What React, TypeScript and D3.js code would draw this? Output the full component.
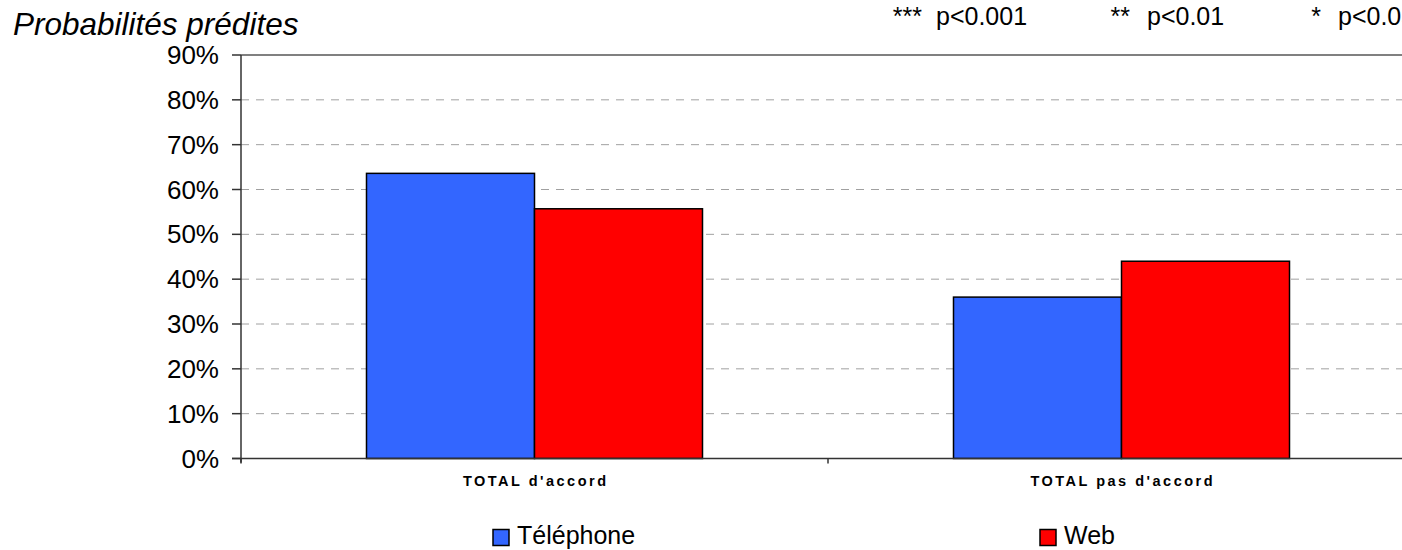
import React from "react";
import * as d3 from "d3";

const categories = ["TOTAL d'accord", "TOTAL pas d'accord"];
const seriesNames = ["Téléphone", "Web"];
const telephone = [63.6, 36.0];
const web = [55.7, 44.0];
const yTicks = [0, 10, 20, 30, 40, 50, 60, 70, 80, 90];
const title = "Probabilités prédites";
const sigStars = ["***", "**", "*"];
const sigLabels = ["p<0.001", "p<0.01", "p<0.05"];

const colors = ["#3366FF", "#FF0000"];
const W = 1402;
const H = 550;
const FONT = "Arial, 'Liberation Sans', Helvetica, sans-serif";

export default function App() {
  const left = 241;
  const right = 1415;
  const y = d3.scaleLinear().domain([0, 90]).range([458.5, 55]);
  const x0 = d3.scaleBand<string>().domain(categories).range([left, right]).paddingInner(0).paddingOuter(0);
  const x1 = d3.scaleBand<string>().domain(seriesNames).range([0, x0.bandwidth()]).paddingInner(0).paddingOuter(0.747);
  const values = [telephone, web];

  const sigStarRight = [922, 1130, 1321];
  const sigLabelLeft = [936, 1147, 1338];
  const legendX = [493, 1040];

  return (
    <svg width={W} height={H} style={{ position: "absolute", left: 0, top: 0, background: "#fff" }} fontFamily={FONT}>
      <rect x={0} y={0} width={W} height={H} fill="#fff" />
      {/* title */}
      <text x={13} y={35} fontSize={31.5} fontStyle="italic" fill="#000">{title}</text>
      {/* significance */}
      {sigStars.map((s, i) => (
        <g key={s}>
          <text x={sigStarRight[i]} y={25} fontSize={25} textAnchor="end" fill="#000">{s}</text>
          <text x={sigLabelLeft[i]} y={25} fontSize={25} fill="#000">{sigLabels[i]}</text>
        </g>
      ))}
      {/* gridlines */}
      {yTicks.filter((t) => t > 0 && t < 90).map((t) => (
        <line key={t} x1={left} x2={right} y1={y(t)} y2={y(t)} stroke="#a0a0a0" strokeWidth={1} strokeDasharray="8,7" />
      ))}
      <line x1={left} x2={right} y1={y(90)} y2={y(90)} stroke="#808080" strokeWidth={2} />
      {/* bars */}
      {categories.map((c, ci) => (
        <g key={c} transform={`translate(${x0(c)},0)`}>
          {seriesNames.map((s, si) => (
            <rect
              key={s}
              x={x1(s)}
              y={y(values[si][ci])}
              width={x1.bandwidth()}
              height={y(0) - y(values[si][ci])}
              fill={colors[si]}
              stroke="#000"
              strokeWidth={1.5}
            />
          ))}
        </g>
      ))}
      {/* y axis */}
      <line x1={left} x2={left} y1={y(90)} y2={y(0) + 4} stroke="#333" strokeWidth={1.5} />
      {yTicks.map((t) => (
        <g key={t}>
          <line x1={left - 9} x2={left} y1={y(t)} y2={y(t)} stroke="#333" strokeWidth={1.5} />
          <text x={219} y={y(t)} dy="0.35em" fontSize={26} textAnchor="end" fill="#000">{`${t}%`}</text>
        </g>
      ))}
      {/* x axis */}
      <line x1={left - 9} x2={right} y1={y(0)} y2={y(0)} stroke="#333" strokeWidth={1.5} />
      {[...categories.map((c) => x0(c) as number), right].map((v, i) => (
        <line key={i} x1={v} x2={v} y1={y(0)} y2={y(0) + 5} stroke="#333" strokeWidth={1.5} />
      ))}
      {categories.map((c) => (
        <text
          key={c}
          x={(x0(c) as number) + x0.bandwidth() / 2 + 1.25}
          y={486}
          fontSize={14.5}
          fontWeight="bold"
          letterSpacing={2.5}
          textAnchor="middle"
          fill="#000"
        >
          {c}
        </text>
      ))}
      {/* legend */}
      {seriesNames.map((s, i) => (
        <g key={s}>
          <rect x={legendX[i]} y={529.5} width={16} height={16} fill={colors[i]} stroke="#000" strokeWidth={1.5} />
          <text x={legendX[i] + 24} y={543.5} fontSize={25} fill="#000">{s}</text>
        </g>
      ))}
    </svg>
  );
}
